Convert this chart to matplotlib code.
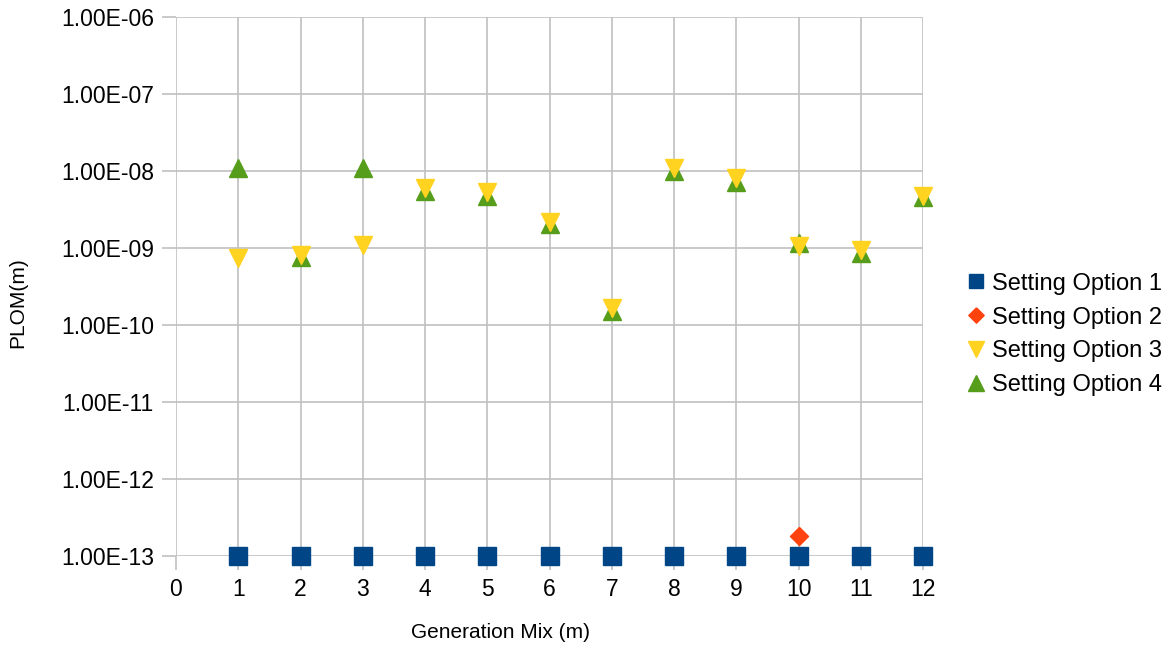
import numpy as np
import matplotlib
matplotlib.use('Agg')
from matplotlib import pyplot as plt
from matplotlib.ticker import FixedLocator, FuncFormatter, NullLocator

plt.rcParams['font.family'] = ['Liberation Sans', 'DejaVu Sans']

mix = [1, 2, 3, 4, 5, 6, 7, 8, 9, 10, 11, 12]
option1 = [1e-13] * 12
option2 = [np.nan] * 9 + [1.8e-13, np.nan, np.nan]
option3 = [7.4e-10, 8.0e-10, 1.1e-9, 6.0e-9, 5.3e-9, 2.2e-9,
           1.65e-10, 1.1e-8, 8.1e-9, 1.05e-9, 9.4e-10, 4.7e-9]
option4 = [1.1e-8, 7.6e-10, 1.1e-8, 5.5e-9, 4.7e-9, 2.05e-9,
           1.5e-10, 1.0e-8, 7.2e-9, 1.15e-9, 8.6e-10, 4.6e-9]
labels = ['Setting Option 1', 'Setting Option 2', 'Setting Option 3', 'Setting Option 4']

diamond = [(0, 1), (1, 0), (0, -1), (-1, 0), (0, 1)]

fig = plt.figure(figsize=(11.7, 6.48), dpi=100)
ax = fig.add_axes([176 / 1170, 1 - 556 / 648, (923 - 176) / 1170, (556 - 17) / 648])

ax.plot(mix, option1, 's', color='#004586', ms=12.5, clip_on=False, label=labels[0], zorder=3)
ax.plot(mix, option2, marker=diamond, ls='none', color='#ff420e', ms=13, clip_on=False,
        label=labels[1], zorder=3)
ax.plot(mix, option4, '^', color='#579d1c', ms=13, clip_on=False, label=labels[3], zorder=3)
ax.plot(mix, option3, 'v', color='#ffd320', ms=13, clip_on=False, label=labels[2], zorder=4)

ax.set_yscale('log')
ax.set_ylim(1e-13, 1e-6)
ax.set_xlim(0, 12)
ax.yaxis.set_major_locator(FixedLocator([10.0 ** e for e in range(-13, -5)]))
ax.yaxis.set_minor_locator(NullLocator())
ax.yaxis.set_major_formatter(FuncFormatter(lambda v, p: '1.00E-%02d' % round(-np.log10(v))))
ax.set_xticks(range(0, 13))

ax.grid(True, color='#c0c0c0', lw=1.2)
ax.set_axisbelow(True)
for s in ax.spines.values():
    s.set_visible(False)
ax.tick_params(length=10, width=1.2, color='#c0c0c0', labelsize=16.5, pad=6)

ax.set_xlabel('Generation Mix (m)', fontsize=15)
ax.set_ylabel('PLOM(m)', fontsize=15)
ax.xaxis.set_label_coords(0.435, -0.124)
ax.yaxis.set_label_coords(-0.199, 0.471)

h, l = ax.get_legend_handles_labels()
order = [0, 1, 3, 2]
ax.legend([h[i] for i in order], [l[i] for i in order], loc='center left',
          bbox_to_anchor=(1.043, 0.411), frameon=False, fontsize=17,
          handletextpad=0.15, handlelength=1.0, labelspacing=0.5, markerscale=0.85,
          borderaxespad=0)

plt.savefig('out.png', dpi=100)
